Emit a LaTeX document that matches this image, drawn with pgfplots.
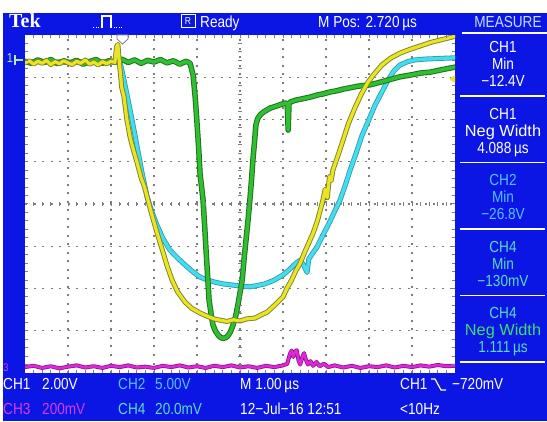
\documentclass[border=0pt]{standalone}
\usepackage{pgfplots}
\usepackage{pgfplotstable}
\pgfplotsset{compat=1.18}
\usepackage{fontspec}
\setmainfont{Liberation Sans}[FakeStretch=0.85]
\newfontfamily\tekfont{Liberation Serif}
\definecolor{scopeblue}{RGB}{12,22,228}
\definecolor{ty}{RGB}{232,228,40}
\definecolor{tyd}{RGB}{130,130,30}
\definecolor{tg}{RGB}{50,190,50}
\definecolor{tgd}{RGB}{25,115,25}
\definecolor{tc}{RGB}{70,220,235}
\definecolor{tcd}{RGB}{40,155,180}
\definecolor{tm}{RGB}{225,40,215}
\definecolor{tmd}{RGB}{140,20,150}
\definecolor{grd}{RGB}{125,125,125}
\definecolor{chtwo}{RGB}{90,190,255}
\definecolor{chfour}{RGB}{90,220,200}
\definecolor{chthree}{RGB}{215,60,225}
\definecolor{negw}{RGB}{60,220,110}
\definecolor{meas}{RGB}{200,220,255}
\definecolor{mk}{RGB}{180,235,170}
\begin{document}
\pgfplotstableread{
x y
0.00 3.34
0.10 3.39
0.20 3.31
0.30 3.38
0.40 3.33
0.50 3.40
0.60 3.30
0.70 3.37
0.80 3.32
0.90 3.39
1.00 3.34
1.10 3.30
1.20 3.38
1.30 3.33
1.40 3.41
1.50 3.31
1.60 3.36
1.70 3.29
1.80 3.37
1.90 3.32
2.00 3.38
2.09 3.35
2.13 3.72
2.16 3.78
2.19 3.40
2.25 2.75
2.30 2.55
2.37 1.99
2.45 1.55
2.53 1.25
2.61 0.97
2.70 0.62
2.78 0.40
2.84 0.17
2.93 -0.18
3.02 -0.50
3.10 -0.78
3.21 -1.14
3.30 -1.45
3.42 -1.80
3.55 -2.08
3.72 -2.32
3.88 -2.47
4.07 -2.58
4.25 -2.66
4.40 -2.72
4.54 -2.75
4.70 -2.78
4.85 -2.74
5.00 -2.77
5.15 -2.72
5.35 -2.70
5.50 -2.62
5.63 -2.56
5.80 -2.40
6.00 -2.20
6.10 -1.98
6.20 -1.80
6.30 -1.58
6.40 -1.40
6.50 -1.15
6.60 -0.92
6.70 -0.69
6.80 -0.40
6.93 0.10
6.98 0.35
7.03 0.15
7.08 0.65
7.12 0.55
7.16 0.80
7.28 1.15
7.40 1.52
7.52 1.90
7.67 2.27
7.82 2.60
7.98 2.89
8.14 3.10
8.30 3.29
8.50 3.45
8.72 3.57
8.95 3.66
9.19 3.74
9.42 3.82
9.65 3.88
9.85 3.93
10.0 3.97
}\chone
\pgfplotstableread{
x y
0.00 3.36
0.50 3.38
1.00 3.35
1.50 3.37
2.00 3.36
2.21 3.36
2.30 2.95
2.40 2.45
2.49 1.99
2.60 1.40
2.72 0.75
2.84 0.17
2.95 -0.18
3.07 -0.50
3.20 -0.80
3.37 -1.09
3.55 -1.28
3.72 -1.44
3.90 -1.60
4.07 -1.73
4.25 -1.80
4.42 -1.85
4.60 -1.89
4.84 -1.92
5.05 -1.95
5.23 -1.96
5.40 -1.93
5.58 -1.89
5.80 -1.80
6.00 -1.68
6.15 -1.55
6.30 -1.40
6.40 -1.33
6.48 -1.45
6.56 -1.62
6.60 -1.30
6.70 -1.15
6.79 -1.02
6.92 -0.75
7.05 -0.50
7.18 -0.22
7.33 0.10
7.45 0.45
7.56 0.80
7.70 1.20
7.84 1.63
8.00 2.00
8.14 2.34
8.30 2.65
8.44 2.93
8.58 3.15
8.72 3.29
8.90 3.37
9.07 3.41
9.30 3.43
9.53 3.44
9.75 3.45
10.0 3.46
}\chtwodata
\pgfplotstableread{
x y
0.00 3.38
0.15 3.33
0.30 3.41
0.45 3.35
0.60 3.42
0.75 3.32
0.90 3.39
1.05 3.34
1.20 3.40
1.35 3.31
1.50 3.37
1.65 3.42
1.80 3.33
1.95 3.39
2.10 3.36
2.25 3.43
2.40 3.35
2.55 3.41
2.70 3.33
2.85 3.40
3.00 3.36
3.15 3.42
3.30 3.34
3.45 3.39
3.60 3.31
3.75 3.38
3.84 3.33
3.91 3.05
3.96 2.50
4.00 1.92
4.04 1.30
4.07 0.73
4.14 0.10
4.18 -0.55
4.21 -1.09
4.25 -1.75
4.28 -2.27
4.33 -2.62
4.37 -2.86
4.43 -3.01
4.49 -3.10
4.55 -3.16
4.61 -3.18
4.67 -3.16
4.72 -3.12
4.78 -3.02
4.84 -2.86
4.90 -2.65
4.95 -2.39
5.00 -2.10
5.05 -1.80
5.09 -1.35
5.14 -0.85
5.19 -0.35
5.23 0.10
5.27 0.60
5.30 1.04
5.34 1.50
5.37 1.87
5.41 2.02
5.47 2.11
5.55 2.18
5.70 2.27
5.85 2.32
6.05 2.39
6.10 2.37
6.12 1.75
6.14 2.36
6.16 2.41
6.30 2.46
6.45 2.49
6.63 2.53
6.80 2.58
6.95 2.61
7.09 2.65
7.25 2.68
7.40 2.72
7.56 2.75
7.75 2.79
8.02 2.82
8.25 2.88
8.50 2.95
8.72 3.01
9.00 3.06
9.20 3.10
9.42 3.12
9.70 3.18
10.0 3.24
}\chfourdata
\pgfplotstableread{
x y
0.0 -3.86
0.2 -3.83
0.4 -3.88
0.6 -3.84
0.8 -3.89
1.0 -3.85
1.2 -3.82
1.4 -3.87
1.6 -3.84
1.8 -3.88
2.0 -3.83
2.2 -3.86
2.4 -3.82
2.6 -3.87
2.8 -3.85
3.0 -3.88
3.2 -3.83
3.4 -3.86
3.6 -3.82
3.8 -3.87
4.0 -3.84
4.2 -3.88
4.4 -3.83
4.6 -3.86
4.8 -3.82
5.0 -3.87
5.2 -3.84
5.4 -3.88
5.6 -3.83
5.8 -3.86
6.0 -3.82
6.10 -3.78
6.16 -3.55
6.20 -3.47
6.24 -3.62
6.28 -3.50
6.32 -3.46
6.36 -3.70
6.40 -3.80
6.45 -3.62
6.49 -3.53
6.53 -3.68
6.58 -3.80
6.64 -3.72
6.70 -3.83
6.78 -3.74
6.85 -3.84
6.95 -3.78
7.05 -3.86
7.2 -3.82
7.4 -3.87
7.6 -3.83
7.8 -3.88
8.0 -3.84
8.2 -3.86
8.4 -3.82
8.6 -3.87
8.8 -3.83
9.0 -3.86
9.2 -3.82
9.4 -3.85
9.6 -3.81
9.8 -3.84
10.0 -3.83
}\chthreedata
\begin{tikzpicture}[x=1pt,y=1pt]
\fill[white] (0,0) rectangle (547,421);
\fill[scopeblue] (3,0) rectangle (547,408);
\fill[white] (25,48) rectangle (455,386);
\begin{axis}[at={(25pt,48pt)}, anchor=south west, width=430pt, height=338pt,
  scale only axis, xmin=0, xmax=10, ymin=-4, ymax=4,
  axis line style={draw=none}, tick style={draw=none},
  xtick={1,...,9}, ytick={-3,...,3}, xticklabels={}, yticklabels={},
  grid=major, grid style={grd, line width=1.3pt, dash pattern=on 2pt off 6.5pt},
  every axis plot/.append style={line join=round, line cap=round}]
\addplot[tmd, line width=4pt] table[x=x,y=y] {\chthreedata};
\addplot[tm, line width=2.4pt] table[x=x,y=y] {\chthreedata};
\addplot[tcd, line width=5pt] table[x=x,y=y] {\chtwodata};
\addplot[tc, line width=3.4pt] table[x=x,y=y] {\chtwodata};
\addplot[tgd, line width=5.5pt] table[x=x,y=y] {\chfourdata};
\addplot[tg, line width=3.6pt] table[x=x,y=y] {\chfourdata};
\addplot[tyd, line width=5pt] table[x=x,y=y] {\chone};
\addplot[ty, line width=3.2pt] table[x=x,y=y] {\chone};
\end{axis}
% graticule ticks
\foreach \k in {1,...,49} {
  \draw[grd, line width=1pt] ({25+\k*8.6},386) -- ++(0,-3);
  \draw[grd, line width=1pt] ({25+\k*8.6},48) -- ++(0,3);
  \draw[grd, line width=1pt] ({25+\k*8.6},215) -- ++(0,4);
}
\foreach \k in {1,...,39} {
  \draw[grd, line width=1pt] (25,{48+\k*8.45}) -- ++(3,0);
  \draw[grd, line width=1pt] (455,{48+\k*8.45}) -- ++(-3,0);
  \draw[grd, line width=1pt] (238,{48+\k*8.45}) -- ++(4,0);
}
% trigger markers
\filldraw[fill=white, draw=gray, line width=0.8pt] (117,386)--(128,386)--(128,382)--(122.5,377)--(117,382)--cycle;
\fill[ty] (455,346)--(449,342)--(455,338)--cycle;
% channel markers
\node[anchor=base, text=mk, font=\fontsize{13}{13}\selectfont, inner sep=0pt] at (10,358) {1};
\draw[mk, line width=1.2pt] (15,361) -- (23,361) (15,356) -- (15,366);
\node[anchor=base, text=chthree, font=\fontsize{11}{11}\selectfont, inner sep=0pt] at (6,49) {3};
% top bar
\node[anchor=base west, white, inner sep=0pt, font=\tekfont\bfseries\fontsize{20}{20}\selectfont] at (9,393) {Tek};
\draw[white, line width=1pt, dash pattern=on 1pt off 1.5pt] (93,393) -- (102,393);
\draw[white, line width=1.2pt] (102,393) -- (102,405) -- (111,405) -- (111,393);
\draw[white, line width=1pt, dash pattern=on 1pt off 1.5pt] (111,393) -- (123,393);
\draw[white, line width=1pt] (181,393) rectangle (195,406);
\node[white, inner sep=0pt, font=\fontsize{10}{10}\selectfont] at (188,399.5) {R};
\begin{scope}[every node/.style={inner sep=0pt, font=\fontsize{16}{16}\selectfont}]
\node[anchor=base west, white] at (200,393) {Ready};
\node[anchor=base west, white] at (318,393) {M Pos: 2.720\,µs};
\node[anchor=base, text=meas] at (508,393) {MEASURE};
\draw[white, line width=1.5pt] (462,388) -- (547,388);
% measure panel
\node[anchor=base, white] at (503,368) {CH1};
\node[anchor=base, white] at (503,351) {Min};
\node[anchor=base, white] at (503,334) {−12.4V};
\draw[white, line width=1.5pt] (460,325) -- (545,325);
\node[anchor=base, white] at (503,301.5) {CH1};
\node[anchor=base, white] at (503,284.5) {\scalebox{1.2}[1]{Neg Width}};
\node[anchor=base, white] at (503,267.5) {4.088\,µs};
\draw[white, line width=1.5pt] (460,258.5) -- (545,258.5);
\node[anchor=base, text=chtwo] at (503,235) {CH2};
\node[anchor=base, text=chtwo] at (503,218) {Min};
\node[anchor=base, text=chtwo] at (503,201) {−26.8V};
\draw[white, line width=1.5pt] (460,192) -- (545,192);
\node[anchor=base, text=chfour] at (503,168.5) {CH4};
\node[anchor=base, text=chfour] at (503,151.5) {Min};
\node[anchor=base, text=chfour] at (503,134.5) {−130mV};
\draw[white, line width=1.5pt] (460,125.5) -- (545,125.5);
\node[anchor=base, text=chfour] at (503,102) {CH4};
\node[anchor=base, text=negw] at (503,85) {\scalebox{1.2}[1]{Neg Width}};
\node[anchor=base, text=chfour] at (503,68) {1.111\,µs};
\draw[white, line width=1.5pt] (460,59) -- (545,59);
% bottom rows
\node[anchor=base west, white] at (3,31) {CH1};
\node[anchor=base west, white] at (42,31) {2.00V};
\node[anchor=base west, text=chtwo] at (118,31) {CH2};
\node[anchor=base west, text=chtwo] at (155,31) {5.00V};
\node[anchor=base west, white] at (240,31) {M 1.00\,µs};
\node[anchor=base west, white] at (400,31) {CH1};
\node[anchor=base west, white] at (452,31) {−720mV};
\node[anchor=base west, text=chthree] at (3,6) {CH3};
\node[anchor=base west, text=chthree] at (42,6) {200mV};
\node[anchor=base west, text=chfour] at (118,6) {CH4};
\node[anchor=base west, text=chfour] at (155,6) {20.0mV};
\node[anchor=base west, white] at (240,6) {12−Jul−16 12:51};
\node[anchor=base west, white] at (400,6) {<10Hz};
\end{scope}
\draw[white, line width=1.2pt] (431,42) -- (435,42) -- (441,31) -- (446,31);
\pgfresetboundingbox
\useasboundingbox (0,0) rectangle (547,421);
\end{tikzpicture}
\end{document}
